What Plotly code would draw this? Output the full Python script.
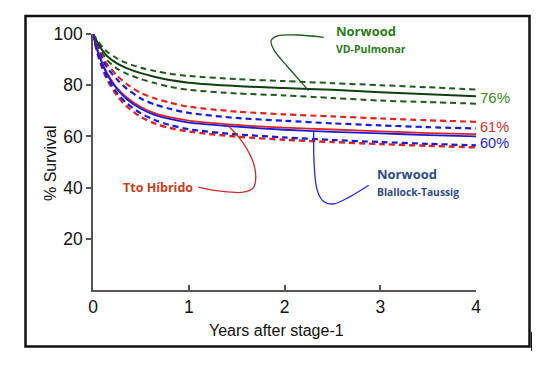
import plotly.graph_objects as go

# ---------------- data ----------------
years = [0, 0.05, 0.1, 0.15, 0.25, 0.35, 0.5, 0.65, 0.8, 1, 1.5, 2, 2.5, 3, 3.5, 4]

green_upper = [100, 97.2, 94.8, 93.0, 90.5, 88.7, 86.8, 85.5, 84.5, 83.6, 82.4, 81.6, 80.8, 80.0, 79.2, 78.3]
green_solid = [100, 96.5, 93.5, 91.3, 88.5, 86.7, 84.7, 83.2, 82.0, 81.0, 79.7, 78.9, 78.2, 77.2, 76.5, 75.7]
green_lower = [100, 95.8, 92.3, 89.7, 86.5, 84.5, 82.4, 80.8, 79.4, 78.2, 76.8, 76.0, 75.0, 74.0, 73.4, 72.8]

red_upper = [100, 95.0, 91.0, 88.0, 83.8, 80.5, 77.0, 74.8, 73.2, 71.6, 69.7, 68.6, 67.8, 67.0, 66.3, 65.7]
red_solid = [100, 93.5, 88.5, 84.5, 79.0, 75.3, 71.5, 69.0, 67.5, 66.2, 64.5, 63.4, 62.7, 62.0, 61.3, 60.9]
red_lower = [100, 92.0, 86.3, 82.0, 76.0, 71.8, 67.6, 65.0, 63.3, 61.9, 59.9, 58.7, 57.8, 57.0, 56.3, 55.7]

blue_upper = [100, 94.5, 90.0, 86.7, 82.3, 78.7, 74.8, 72.4, 70.8, 69.2, 67.2, 66.1, 65.1, 64.3, 63.6, 63.1]
blue_solid = [100, 93.0, 88.0, 84.0, 78.5, 74.6, 70.8, 68.3, 66.8, 65.4, 63.8, 62.6, 61.8, 61.2, 60.5, 60.0]
blue_lower = [100, 92.5, 87.0, 82.8, 77.0, 73.0, 69.0, 66.3, 64.5, 62.8, 60.8, 59.6, 58.6, 57.8, 57.1, 56.5]

x_ticks = [0, 1, 2, 3, 4]
y_ticks = [20, 40, 60, 80, 100]

# leader lines (data coordinates)
green_leader_x = [2.41, 2.13, 1.92, 1.86, 1.89, 2.03, 2.17, 2.25]
green_leader_y = [98.7, 99.6, 99.2, 97.4, 93.8, 87.3, 81.4, 77.9]
red_leader_x = [1.10, 1.33, 1.57, 1.675, 1.70, 1.675, 1.56, 1.42]
red_leader_y = [40.2, 38.6, 38.2, 40.0, 43.9, 49.7, 57.9, 63.9]
blue_leader_x = [2.88, 2.69, 2.51, 2.40, 2.34, 2.31, 2.305]
blue_leader_y = [40.9, 36.6, 33.6, 34.9, 39.2, 48.9, 61.9]

# ---------------- figure ----------------
OFF = 8  # page body margin
W, H = 549 - OFF, 367 - OFF
ML, MR, MT, MB = 85, 73, 26, 77
PW, PH = W - ML - MR, H - MT - MB


def px(x):
    return (x - OFF - ML) / PW


def py(y):
    return (H - MB - (y - OFF)) / PH


GREEN_D = "#1e5a1e"
GREEN_S = "#0f3f0f"
RED = "#e32222"
BLUE = "#1c1cd8"

fig = go.Figure()


def add(y, color, dash, width):
    fig.add_trace(go.Scatter(
        x=years, y=y, mode="lines",
        line=dict(color=color, dash=dash, width=width, shape="spline", smoothing=0.8),
        hoverinfo="skip", showlegend=False, cliponaxis=False))


DASH = "6px,4px"
add(green_upper, GREEN_D, DASH, 2)
add(green_lower, GREEN_D, DASH, 2)
add(green_solid, GREEN_S, "solid", 2)
add(red_upper, RED, DASH, 2.2)
add(blue_upper, BLUE, DASH, 2.2)
add(red_lower, RED, DASH, 2.4)
add(blue_lower, BLUE, DASH, 2.2)
add(red_solid, RED, "solid", 1.8)
add(blue_solid, BLUE, "solid", 1.8)

for lx, ly, c in [(green_leader_x, green_leader_y, "#1b5a1b"),
                  (red_leader_x, red_leader_y, "#d02a2a"),
                  (blue_leader_x, blue_leader_y, "#2a2ad0")]:
    fig.add_trace(go.Scatter(x=lx, y=ly, mode="lines",
                             line=dict(color=c, width=1.3, shape="spline"),
                             hoverinfo="skip", showlegend=False, cliponaxis=False))

TXT = "Open Sans"
ann = []


def label(x, y, text, color, size, family=TXT, bold=True):
    ann.append(dict(xref="paper", yref="paper", x=px(x), y=py(y), text=(f"<b>{text}</b>" if bold else text),
                    showarrow=False, xanchor="left", yanchor="middle",
                    font=dict(family=family, size=size, color=color)))


label(334, 31, "Norwood", "#2b7a1c", 13)
label(334, 48.5, "VD-Pulmonar", "#2b7a1c", 10.5)
label(375, 174, "Norwood", "#2d4d86", 13)
label(375, 191.5, "Blallock-Taussig", "#2d4d86", 10.3)
label(121, 187.5, "Tto Híbrido", "#c93c1c", 12.5)
label(478, 97.5, "76%", "#3a8a28", 15, "Liberation Sans", False)
label(478, 126.5, "61%", "#c83232", 14.5, "Liberation Sans", False)
label(478, 142.5, "60%", "#2626cc", 14.5, "Liberation Sans", False)

ann.append(dict(xref="paper", yref="paper", x=px(276), y=py(330), text="Years after stage-1",
                showarrow=False, xanchor="center", yanchor="middle",
                font=dict(family="Liberation Sans", size=16, color="#111")))
ann.append(dict(xref="paper", yref="paper", x=px(50), y=py(163), text="% Survival",
                showarrow=False, xanchor="center", yanchor="middle", textangle=-90,
                font=dict(family="Liberation Sans", size=16, color="#111")))

shapes = [
    dict(type="rect", xref="paper", yref="paper", x0=px(25.5), x1=px(529.5), y0=py(346.5), y1=py(16),
         line=dict(color="#111", width=2.5)),
    dict(type="line", xref="paper", yref="paper", x0=px(531.5), x1=px(531.5), y0=py(332), y1=py(351),
         line=dict(color="#111", width=1)),
]

fig.update_layout(
    width=W, height=H,
    margin=dict(l=ML, r=MR, t=MT, b=MB, pad=0),
    paper_bgcolor="white", plot_bgcolor="white",
    annotations=ann, shapes=shapes, showlegend=False,
    xaxis=dict(range=[0, 4], tickvals=x_ticks, ticktext=[str(v) for v in x_ticks],
               showgrid=False, zeroline=False, showline=True, linecolor="#555", linewidth=1.5,
               ticks="inside", ticklen=5, tickwidth=1.5, tickcolor="#555",
               tickfont=dict(family="Liberation Sans", size=17.5, color="#111"), fixedrange=True),
    yaxis=dict(range=[0, 100], tickvals=y_ticks, ticktext=[str(v) for v in y_ticks],
               showgrid=False, zeroline=False, showline=True, linecolor="#555", linewidth=1.5,
               ticks="outside", ticklen=5, tickwidth=1.5, tickcolor="#555",
               tickfont=dict(family="Liberation Sans", size=17.5, color="#111"), fixedrange=True),
)

fig.write_html("out.html")
